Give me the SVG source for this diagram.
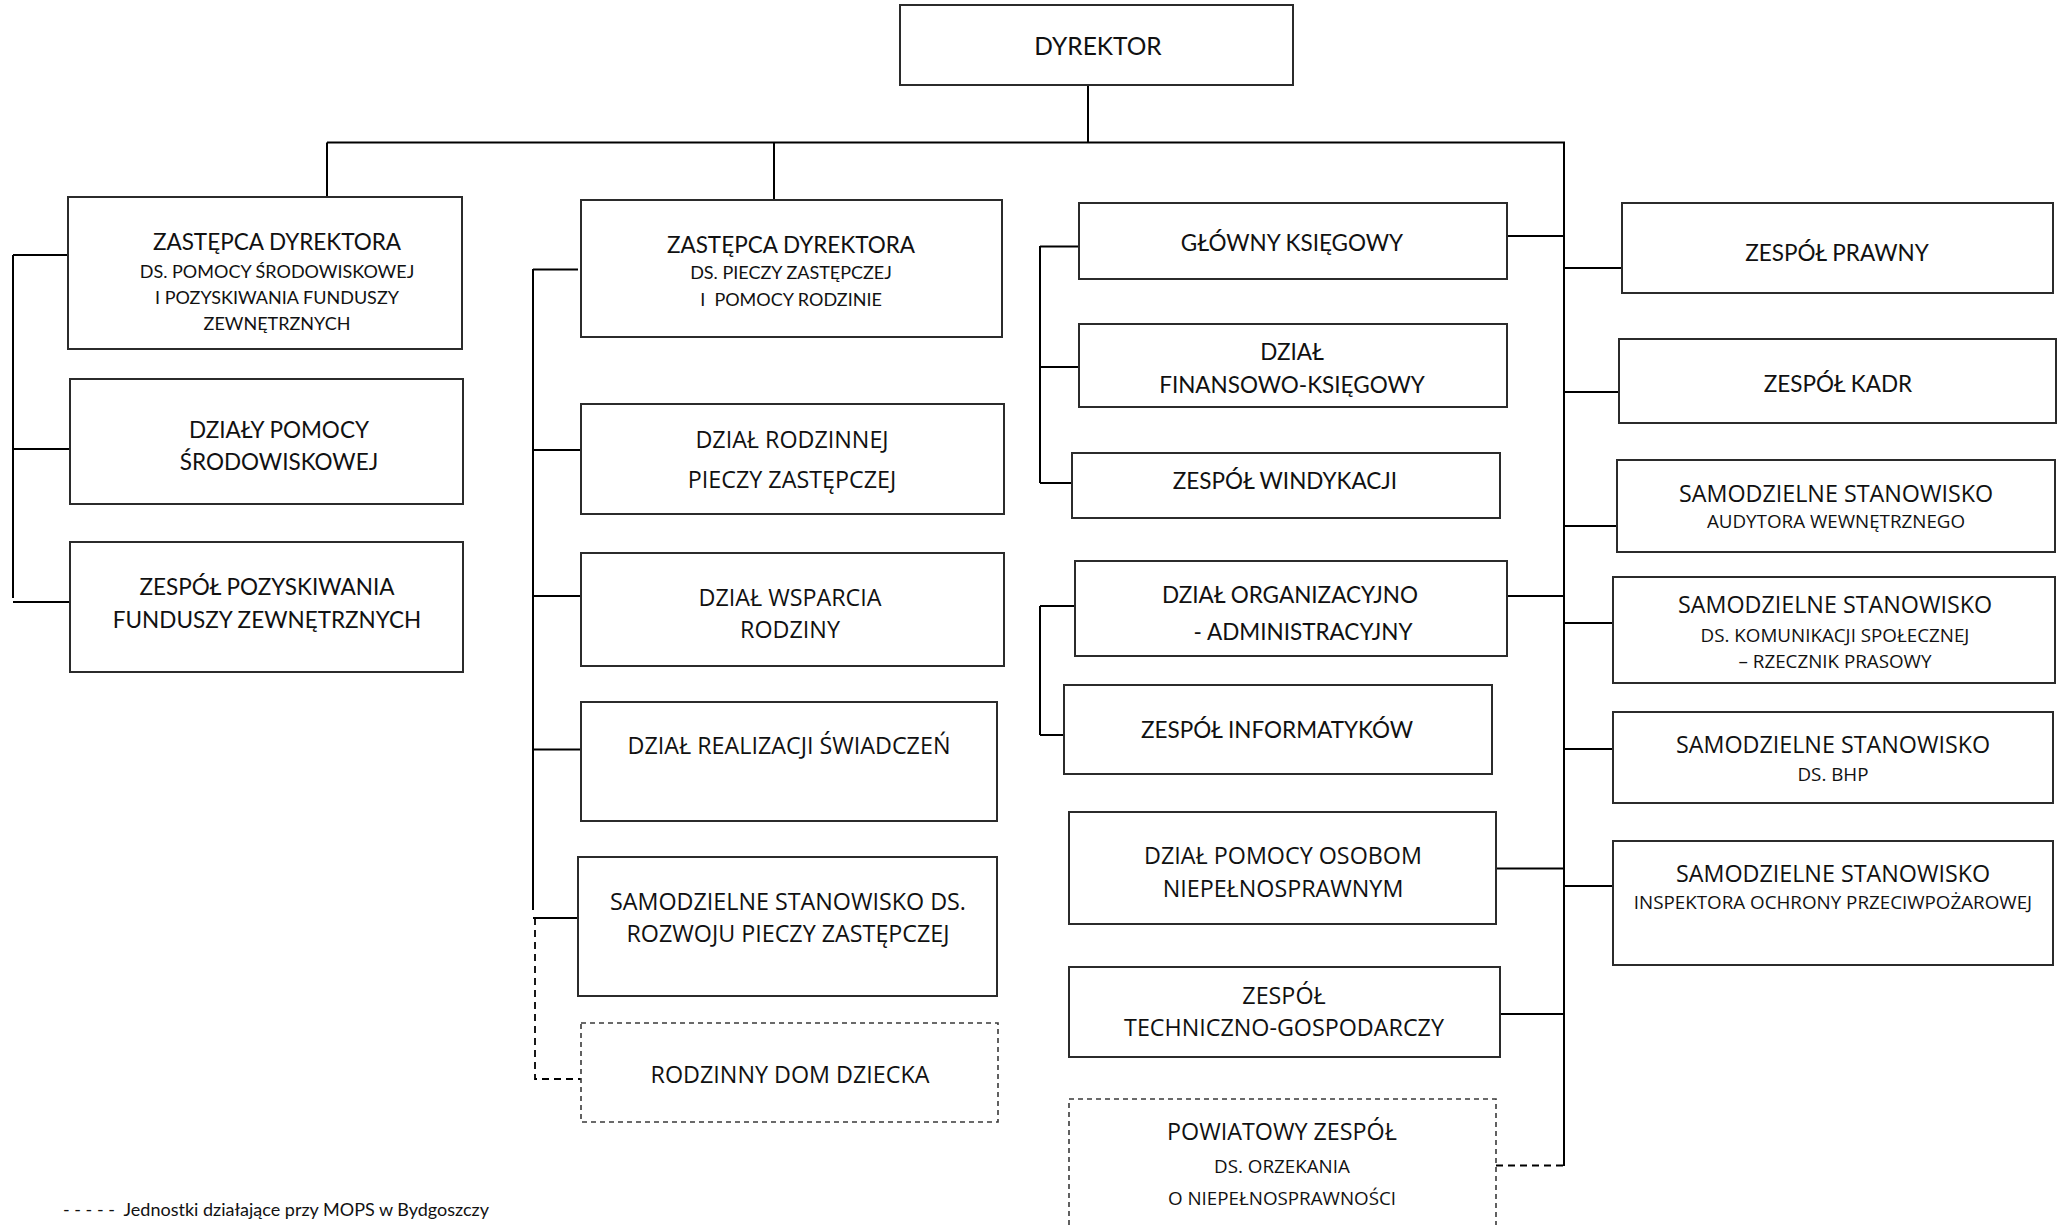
<svg xmlns="http://www.w3.org/2000/svg" width="2060" height="1225" viewBox="0 0 2060 1225">
<style>
.box{fill:#fff;stroke:#2b2b2b;stroke-width:2}
.dbox{fill:#fff;stroke:#3a3a3a;stroke-width:1.6;stroke-dasharray:5 4}
.ln{stroke:#000;stroke-width:2;fill:none}
.dl{stroke:#000;stroke-width:1.8;fill:none;stroke-dasharray:7 5}
text{fill:#111;text-anchor:middle}
.cb{font-family:Lato,'Open Sans',sans-serif;font-size:22.5px}
.cx{font-family:Lato,'Open Sans',sans-serif;font-size:24.5px}
.cs{font-family:Lato,'Open Sans',sans-serif;font-size:18px}
.sb{font-family:'Open Sans',sans-serif;font-size:23.3px}
.ss{font-family:'Open Sans',sans-serif;font-size:18.8px}
.lg{font-family:Lato,'Open Sans',sans-serif;font-size:18px;text-anchor:start}
</style>
<rect width="2060" height="1225" fill="#fff"/>
<g id="connectors">
<path class="ln" d="M1088 85V142.5M327 142.5H1564M327 142.5V197M774 142.5V200M1564 141.5V1166"/>
<path class="ln" d="M13 255V598M13 255H68M13 449H70M13 602H70"/>
<path class="ln" d="M533 269V910M533 269.5H578M533 450H581M533 596H581M533 749.5H581M533 918H578"/>
<path class="dl" d="M535 918V1079H581"/>
<path class="ln" d="M1040 246V483M1040 246.5H1079M1040 367H1079M1040 483H1072"/>
<path class="ln" d="M1040 606V735M1040 606H1075M1040 735H1064"/>
<path class="ln" d="M1507 236H1564M1507 596H1564M1496 868.5H1564M1500 1014H1564"/>
<path class="dl" d="M1496 1165.5H1564"/>
<path class="ln" d="M1564 268H1622M1564 392H1619M1564 526H1617M1564 623H1613M1564 749H1613M1564 886H1613"/>
</g>
<g id="dyrektor"><rect class="box" x="900" y="5" width="393" height="80"/><text class="cx" x="1098" y="55">DYREKTOR</text></g>
<g id="zastepca1"><rect class="box" x="68" y="197" width="394" height="152"/>
<text class="cb" x="277" y="250">ZASTĘPCA DYREKTORA</text>
<text class="cs" x="277" y="278">DS. POMOCY ŚRODOWISKOWEJ</text>
<text class="cs" x="277" y="304">I POZYSKIWANIA FUNDUSZY</text>
<text class="cs" x="277" y="330">ZEWNĘTRZNYCH</text></g>
<g id="dzialy-pomocy"><rect class="box" x="70" y="379" width="393" height="125"/>
<text class="cb" x="279" y="438">DZIAŁY POMOCY</text>
<text class="cb" x="279" y="470">ŚRODOWISKOWEJ</text></g>
<g id="zespol-pozyskiwania"><rect class="box" x="70" y="542" width="393" height="130"/>
<text class="cb" x="267" y="595">ZESPÓŁ POZYSKIWANIA</text>
<text class="cb" x="267" y="628">FUNDUSZY ZEWNĘTRZNYCH</text></g>
<g id="zastepca2"><rect class="box" x="581" y="200" width="421" height="137"/>
<text class="cb" x="791" y="253">ZASTĘPCA DYREKTORA</text>
<text class="cs" x="791" y="279">DS. PIECZY ZASTĘPCZEJ</text>
<text class="cs" x="791" y="306" xml:space="preserve">I  POMOCY RODZINIE</text></g>
<g id="dzial-rodzinnej"><rect class="box" x="581" y="404" width="423" height="110"/>
<text class="sb" x="792" y="448">DZIAŁ RODZINNEJ</text>
<text class="sb" x="792" y="488">PIECZY ZASTĘPCZEJ</text></g>
<g id="dzial-wsparcia"><rect class="box" x="581" y="553" width="423" height="113"/>
<text class="sb" x="790" y="606">DZIAŁ WSPARCIA</text>
<text class="sb" x="790" y="638">RODZINY</text></g>
<g id="dzial-realizacji"><rect class="box" x="581" y="702" width="416" height="119"/>
<text class="sb" x="789" y="754">DZIAŁ REALIZACJI ŚWIADCZEŃ</text></g>
<g id="stanowisko-rozwoju"><rect class="box" x="578" y="857" width="419" height="139"/>
<text class="sb" x="788" y="910">SAMODZIELNE STANOWISKO DS.</text>
<text class="sb" x="788" y="942">ROZWOJU PIECZY ZASTĘPCZEJ</text></g>
<g id="rodzinny-dom"><rect class="dbox" x="581" y="1023" width="417" height="99"/>
<text class="sb" x="790" y="1083">RODZINNY DOM DZIECKA</text></g>
<g id="glowny-ksiegowy"><rect class="box" x="1079" y="203" width="428" height="76"/>
<text class="cb" x="1292" y="251">GŁÓWNY KSIĘGOWY</text></g>
<g id="dzial-finansowo"><rect class="box" x="1079" y="324" width="428" height="83"/>
<text class="cb" x="1292" y="360">DZIAŁ</text>
<text class="cb" x="1292" y="393">FINANSOWO-KSIĘGOWY</text></g>
<g id="zespol-windykacji"><rect class="box" x="1072" y="453" width="428" height="65"/>
<text class="cb" x="1285" y="489">ZESPÓŁ WINDYKACJI</text></g>
<g id="dzial-organizacyjno"><rect class="box" x="1075" y="561" width="432" height="95"/>
<text class="cb" x="1290" y="603">DZIAŁ ORGANIZACYJNO</text>
<text class="cb" x="1303" y="640">- ADMINISTRACYJNY</text></g>
<g id="zespol-informatykow"><rect class="box" x="1064" y="685" width="428" height="89"/>
<text class="cb" x="1277" y="738">ZESPÓŁ INFORMATYKÓW</text></g>
<g id="dzial-pomocy-osobom"><rect class="box" x="1069" y="812" width="427" height="112"/>
<text class="sb" x="1283" y="864">DZIAŁ POMOCY OSOBOM</text>
<text class="sb" x="1283" y="897">NIEPEŁNOSPRAWNYM</text></g>
<g id="zespol-techniczno"><rect class="box" x="1069" y="967" width="431" height="90"/>
<text class="sb" x="1284" y="1004">ZESPÓŁ</text>
<text class="sb" x="1284" y="1036">TECHNICZNO-GOSPODARCZY</text></g>
<g id="powiatowy-zespol"><rect class="dbox" x="1069" y="1099" width="427" height="140"/>
<text class="sb" x="1282" y="1140">POWIATOWY ZESPÓŁ</text>
<text class="ss" x="1282" y="1173">DS. ORZEKANIA</text>
<text class="ss" x="1282" y="1205">O NIEPEŁNOSPRAWNOŚCI</text></g>
<g id="zespol-prawny"><rect class="box" x="1622" y="203" width="431" height="90"/>
<text class="cb" x="1837" y="261">ZESPÓŁ PRAWNY</text></g>
<g id="zespol-kadr"><rect class="box" x="1619" y="339" width="437" height="84"/>
<text class="cb" x="1838" y="392">ZESPÓŁ KADR</text></g>
<g id="audytor"><rect class="box" x="1617" y="460" width="438" height="92"/>
<text class="sb" x="1836" y="502">SAMODZIELNE STANOWISKO</text>
<text class="ss" x="1836" y="528">AUDYTORA WEWNĘTRZNEGO</text></g>
<g id="rzecznik"><rect class="box" x="1613" y="577" width="442" height="106"/>
<text class="sb" x="1835" y="613">SAMODZIELNE STANOWISKO</text>
<text class="ss" x="1835" y="642">DS. KOMUNIKACJI SPOŁECZNEJ</text>
<text class="ss" x="1835" y="668">– RZECZNIK PRASOWY</text></g>
<g id="bhp"><rect class="box" x="1613" y="712" width="440" height="91"/>
<text class="sb" x="1833" y="753">SAMODZIELNE STANOWISKO</text>
<text class="ss" x="1833" y="781">DS. BHP</text></g>
<g id="ppoz"><rect class="box" x="1613" y="841" width="440" height="124"/>
<text class="sb" x="1833" y="882">SAMODZIELNE STANOWISKO</text>
<text class="ss" x="1833" y="909">INSPEKTORA OCHRONY PRZECIWPOŻAROWEJ</text></g>
<g id="legend"><text class="lg" x="63" y="1216" xml:space="preserve">- - - - -  Jednostki działające przy MOPS w Bydgoszczy</text></g>
</svg>
